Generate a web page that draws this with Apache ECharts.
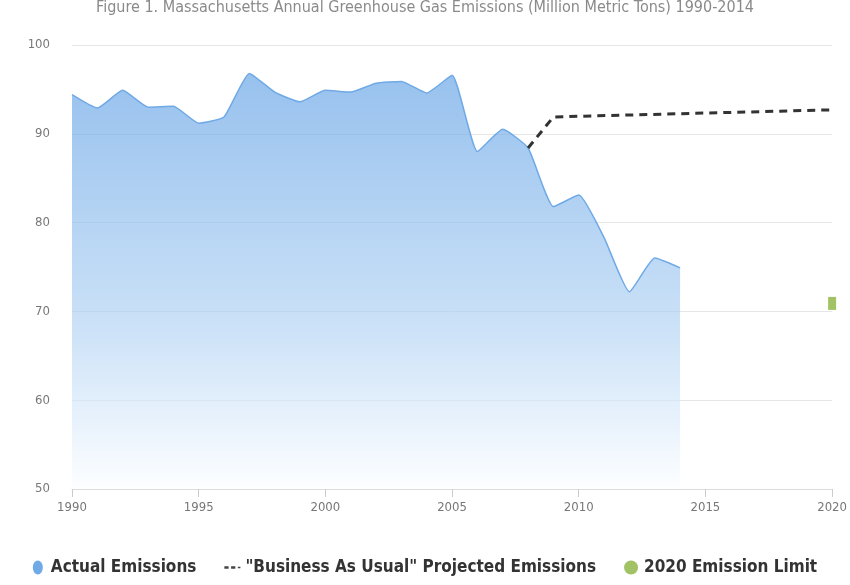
<!DOCTYPE html>
<html><head><meta charset="utf-8">
<script src="https://cdn.jsdelivr.net/npm/echarts@6/dist/echarts.min.js"></script>
<style>html,body{margin:0;padding:0;background:#fff}#c{width:850px;height:585px}</style>
</head><body><div id="c"></div>
<script>
const titleText = 'Figure 1. Massachusetts Annual Greenhouse Gas Emissions (Million Metric Tons) 1990-2014';
const years = [1990,1991,1992,1993,1994,1995,1996,1997,1998,1999,2000,2001,2002,2003,2004,2005,2006,2007,2008,2009,2010,2011,2012,2013,2014];
const actual = [94.4,92.9,94.9,93.0,93.1,91.2,91.9,96.8,94.7,93.6,94.9,94.7,95.7,95.9,94.6,96.6,88.0,90.5,88.4,81.8,83.1,78.3,72.2,76.0,74.9];
const bauYears = [2008,2009,2020];
const bau = [88.4,91.9,92.7];
const limitYears = [2020];
const limit = [70.9];
const xTicks = [1990,1995,2000,2005,2010,2015,2020];
const yTicks = [50,60,70,80,90,100];

const chart = echarts.init(document.getElementById('c'));
const font = '"DejaVu Sans Condensed", "DejaVu Sans", sans-serif';
chart.setOption({
  animation:false,
  title:{text:titleText,left:'center',top:-5,textStyle:{fontFamily:font,fontSize:16,fontWeight:'normal',color:'#8a8a8a'}},
  grid:{left:72,right:17,top:45,bottom:96},
  xAxis:{type:'value',min:xTicks[0],max:xTicks[xTicks.length-1],interval:5,
    axisLine:{lineStyle:{color:'#ddd'}},
    axisTick:{show:true,length:8,lineStyle:{color:'#ccc'}},
    splitLine:{show:false},
    axisLabel:{color:'#777',fontFamily:font,fontSize:13,margin:12,formatter:v=>String(v)}},
  yAxis:{type:'value',min:yTicks[0],max:yTicks[yTicks.length-1],interval:10,
    axisLine:{show:false},axisTick:{show:false},
    splitLine:{lineStyle:{color:'#e6e6e6'}},
    axisLabel:{color:'#777',fontFamily:font,fontSize:13,margin:22}},
  legend:{bottom:4,left:'center',itemGap:28,itemWidth:16,itemHeight:14,
    textStyle:{fontFamily:font,fontSize:17,color:'#333',fontWeight:'bold'},
    data:[
      {name:'Actual Emissions',icon:'path://M5,0 A5,7 0 1,1 5,14 A5,7 0 1,1 5,0 Z',itemStyle:{color:'#6fa9e6'}},
      {name:'"Business As Usual" Projected Emissions',icon:'path://M0,6 h5 v3 h-5 z M8,6 h5 v3 h-5 z M16,6.5 h3 v2 h-3 z',itemStyle:{color:'#444'}},
      {name:'2020 Emission Limit',icon:'circle',itemStyle:{color:'#8ab33f'}}
    ]},
  series:[
    {name:'Actual Emissions',type:'line',data:years.map((y,i)=>[y,actual[i]]),
      smooth:0.15,showSymbol:false,
      lineStyle:{color:'#6fa9e6',width:1.5},itemStyle:{color:'#6fa9e6'},
      areaStyle:{origin:'start',color:new echarts.graphic.LinearGradient(0,0,0,1,[
        {offset:0,color:'#6aa6e6'},{offset:0.6,color:'#b3d3f3'},{offset:1,color:'#fbfdff'}])}},
    {name:'"Business As Usual" Projected Emissions',type:'line',data:bauYears.map((y,i)=>[y,bau[i]]),
      showSymbol:false,lineStyle:{color:'#333',width:3,type:[8,6]},itemStyle:{color:'#444'}},
    {name:'2020 Emission Limit',type:'scatter',data:limitYears.map((y,i)=>[y,limit[i]]),
      symbol:'rect',symbolSize:[8,13],itemStyle:{color:'#8ab33f'}}
  ]
});
</script></body></html>
